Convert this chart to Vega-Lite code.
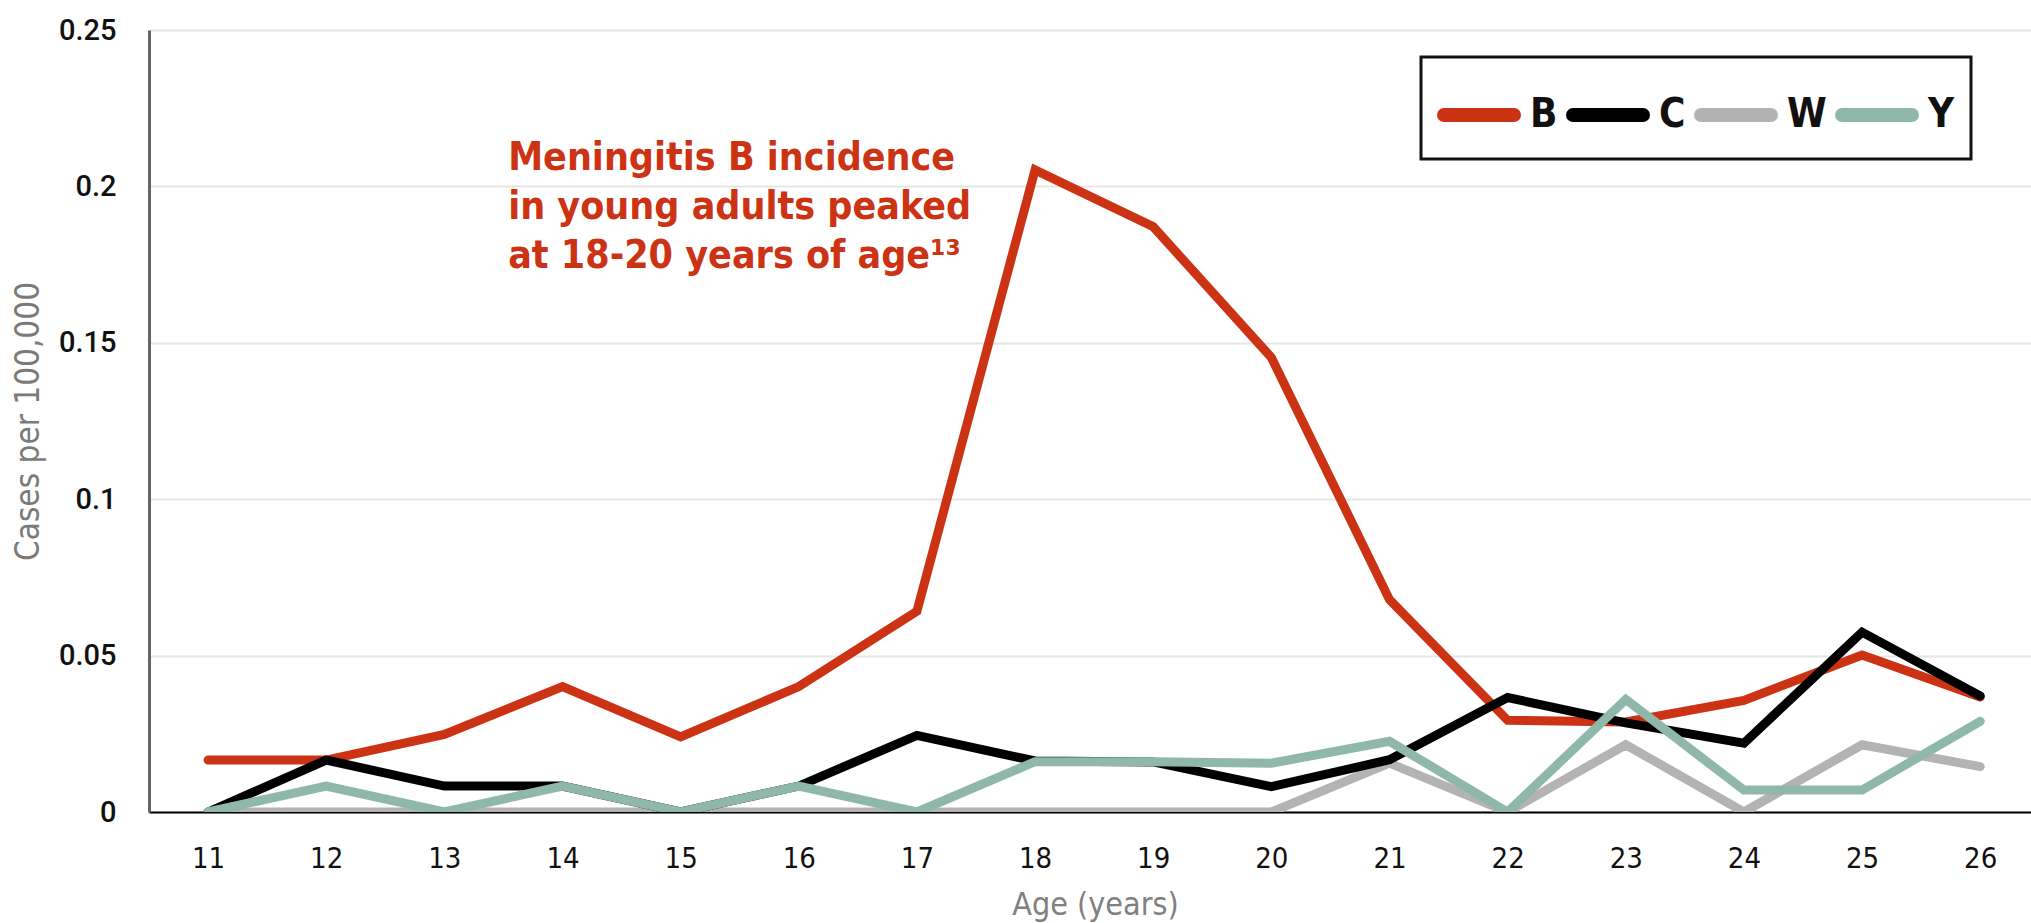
{
  "$schema": "https://vega.github.io/schema/vega-lite/v6.json",
  "autosize": {"type": "none"},
  "width": 1882,
  "height": 782,
  "padding": {"left": 149, "top": 30, "right": 0, "bottom": 111},
  "background": "white",
  "config": {"view": {"stroke": null}},
  "layer": [
    {
      "data": {"values": [
        {"age": 11, "serogroup": "W", "cases": 0},
        {"age": 12, "serogroup": "W", "cases": 0},
        {"age": 13, "serogroup": "W", "cases": 0},
        {"age": 14, "serogroup": "W", "cases": 0},
        {"age": 15, "serogroup": "W", "cases": 0},
        {"age": 16, "serogroup": "W", "cases": 0},
        {"age": 17, "serogroup": "W", "cases": 0},
        {"age": 18, "serogroup": "W", "cases": 0},
        {"age": 19, "serogroup": "W", "cases": 0},
        {"age": 20, "serogroup": "W", "cases": 0},
        {"age": 21, "serogroup": "W", "cases": 0.0156},
        {"age": 22, "serogroup": "W", "cases": 0},
        {"age": 23, "serogroup": "W", "cases": 0.0215},
        {"age": 24, "serogroup": "W", "cases": 0},
        {"age": 25, "serogroup": "W", "cases": 0.0215},
        {"age": 26, "serogroup": "W", "cases": 0.0145},
        {"age": 11, "serogroup": "B", "cases": 0.0166},
        {"age": 12, "serogroup": "B", "cases": 0.0166},
        {"age": 13, "serogroup": "B", "cases": 0.0248},
        {"age": 14, "serogroup": "B", "cases": 0.0401},
        {"age": 15, "serogroup": "B", "cases": 0.024},
        {"age": 16, "serogroup": "B", "cases": 0.0401},
        {"age": 17, "serogroup": "B", "cases": 0.0642},
        {"age": 18, "serogroup": "B", "cases": 0.2053},
        {"age": 19, "serogroup": "B", "cases": 0.1871},
        {"age": 20, "serogroup": "B", "cases": 0.1453},
        {"age": 21, "serogroup": "B", "cases": 0.0679},
        {"age": 22, "serogroup": "B", "cases": 0.0293},
        {"age": 23, "serogroup": "B", "cases": 0.0288},
        {"age": 24, "serogroup": "B", "cases": 0.0357},
        {"age": 25, "serogroup": "B", "cases": 0.0502},
        {"age": 26, "serogroup": "B", "cases": 0.0368},
        {"age": 11, "serogroup": "C", "cases": 0},
        {"age": 12, "serogroup": "C", "cases": 0.0166},
        {"age": 13, "serogroup": "C", "cases": 0.0083},
        {"age": 14, "serogroup": "C", "cases": 0.0083},
        {"age": 15, "serogroup": "C", "cases": 0},
        {"age": 16, "serogroup": "C", "cases": 0.0083},
        {"age": 17, "serogroup": "C", "cases": 0.0245},
        {"age": 18, "serogroup": "C", "cases": 0.0163},
        {"age": 19, "serogroup": "C", "cases": 0.016},
        {"age": 20, "serogroup": "C", "cases": 0.0081},
        {"age": 21, "serogroup": "C", "cases": 0.0167},
        {"age": 22, "serogroup": "C", "cases": 0.0366},
        {"age": 23, "serogroup": "C", "cases": 0.0285},
        {"age": 24, "serogroup": "C", "cases": 0.022},
        {"age": 25, "serogroup": "C", "cases": 0.0575},
        {"age": 26, "serogroup": "C", "cases": 0.0371},
        {"age": 11, "serogroup": "Y", "cases": 0},
        {"age": 12, "serogroup": "Y", "cases": 0.0083},
        {"age": 13, "serogroup": "Y", "cases": 0},
        {"age": 14, "serogroup": "Y", "cases": 0.0083},
        {"age": 15, "serogroup": "Y", "cases": 0},
        {"age": 16, "serogroup": "Y", "cases": 0.0083},
        {"age": 17, "serogroup": "Y", "cases": 0},
        {"age": 18, "serogroup": "Y", "cases": 0.0161},
        {"age": 19, "serogroup": "Y", "cases": 0.0161},
        {"age": 20, "serogroup": "Y", "cases": 0.0156},
        {"age": 21, "serogroup": "Y", "cases": 0.0226},
        {"age": 22, "serogroup": "Y", "cases": 0},
        {"age": 23, "serogroup": "Y", "cases": 0.036},
        {"age": 24, "serogroup": "Y", "cases": 0.007},
        {"age": 25, "serogroup": "Y", "cases": 0.007},
        {"age": 26, "serogroup": "Y", "cases": 0.029}
      ]},
      "mark": {"type": "line", "strokeWidth": 9, "strokeJoin": "miter", "strokeCap": "round", "clip": true},
      "encoding": {
        "x": {
          "field": "age", "type": "quantitative",
          "scale": {"domain": [10.5, 26.43], "nice": false, "zero": false},
          "axis": {
            "values": [11,12,13,14,15,16,17,18,19,20,21,22,23,24,25,26],
            "format": "d",
            "grid": false, "ticks": false, "tickSize": 0,
            "domainColor": "#000000", "domainWidth": 2,
            "labelFont": "DejaVu Sans Condensed, serif", "labelFontSize": 29, "labelColor": "#111111",
            "labelBaseline": "alphabetic", "labelPadding": 55, "labelFlush": false,
            "title": "Age (years)", "titleFont": "DejaVu Sans Condensed, serif", "titleFontSize": 32,
            "titleFontWeight": "normal", "titleColor": "#808080",
            "titleX": 946, "titleY": 92, "titleBaseline": "middle", "titleAlign": "center"
          }
        },
        "y": {
          "field": "cases", "type": "quantitative",
          "scale": {"domain": [0, 0.25], "nice": false},
          "axis": {
            "values": [0, 0.05, 0.1, 0.15, 0.2, 0.25],
            "format": "~g",
            "grid": true, "gridColor": "#e6e6e6", "gridWidth": 2,
            "ticks": false, "tickSize": 0,
            "domainColor": "#666666", "domainWidth": 3,
            "labelFont": "Roboto", "labelFontSize": 29, "labelFontWeight": 500, "labelColor": "#111111",
            "labelPadding": 33, "labelBaseline": "middle",
            "title": "Cases per 100,000", "titleFont": "DejaVu Sans Condensed, serif", "titleFontSize": 33,
            "titleFontWeight": "normal", "titleColor": "#7a7a7a",
            "titleAngle": -90, "titleX": -121, "titleY": 391,
            "titleAlign": "center", "titleBaseline": "middle"
          }
        },
        "color": {
          "field": "serogroup", "type": "nominal",
          "scale": {"domain": ["B", "C", "W", "Y"], "range": ["#cc3314", "#000000", "#b3b3b3", "#8fb8aa"]},
          "legend": {
            "title": null,
            "orient": "none", "legendX": 1272, "legendY": 27,
            "direction": "horizontal",
            "symbolType": "stroke", "symbolSize": 4900, "symbolStrokeWidth": 14,
            "labelFont": "DejaVu Sans Condensed, serif", "labelFontSize": 40, "labelFontWeight": "bold",
            "labelColor": "#111111", "labelOffset": 9, "columnPadding": -13,
            "padding": 16, "strokeColor": "#111111", "fillColor": "white",
            "encode": {
              "symbols": {"update": {"strokeCap": {"value": "round"}}},
              "legend": {"update": {"strokeWidth": {"value": 3}}}
            }
          }
        }
      }
    },
    {
      "data": {"values": [{"note": ["Meningitis B incidence", "in young adults peaked", "at 18-20 years of age¹³"]}]},
      "mark": {
        "type": "text", "align": "left", "baseline": "top",
        "font": "DejaVu Sans Condensed, serif", "fontSize": 39, "fontWeight": "bold", "lineHeight": 49,
        "color": "#cc3314"
      },
      "encoding": {
        "text": {"field": "note"},
        "x": {"datum": 13.54},
        "y": {"datum": 0.2152}
      }
    }
  ]
}
